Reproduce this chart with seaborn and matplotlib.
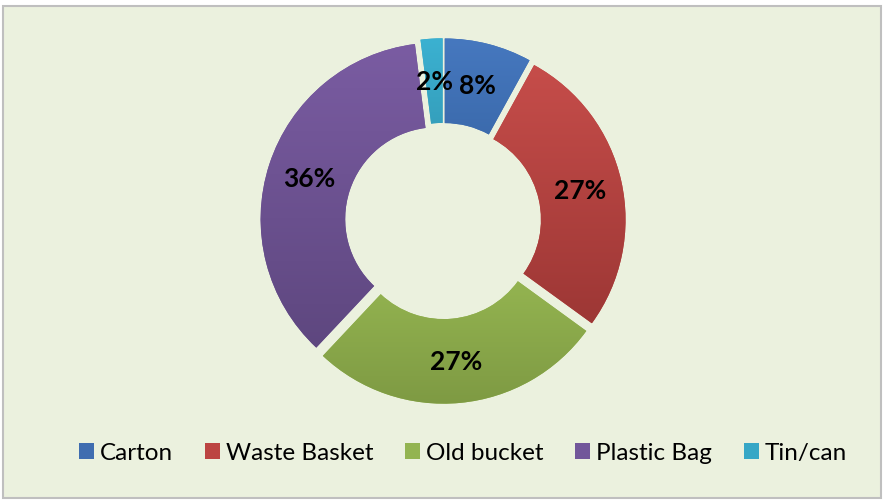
import matplotlib
matplotlib.use("Agg")
import matplotlib.pyplot as plt
from matplotlib.patches import Rectangle, Patch
from matplotlib.colors import to_rgb
import numpy as np
import seaborn as sns

categories = ["Carton", "Waste Basket", "Old bucket", "Plastic Bag", "Tin/can"]
values = [8, 27, 27, 36, 2]
colors = ["#3F6DB0", "#BC4542", "#93B451", "#72579A", "#36A7C6"]
top_colors = ["#4678BF", "#C64D4A", "#9DBF56", "#7A5CA2", "#3BB1D1"]
bottom_colors = ["#33609E", "#9D3735", "#7E9A43", "#5E477F", "#2F8DA7"]

sns.set_style("white")
plt.rcParams["font.family"] = ["Lato", "DejaVu Sans"]

fig = plt.figure(figsize=(8.84, 5.02), dpi=100, facecolor="white")
fig.patches.append(Rectangle((3 / 884, 3 / 502), 878 / 884, 492 / 502,
                             transform=fig.transFigure, facecolor="#EBF1DE",
                             edgecolor="#BFBFBF", linewidth=1.5, zorder=-5))

ax = fig.add_axes([227 / 884, 64 / 502, 432 / 884, 432 / 502])
ax.set_zorder(2)
ax.set_facecolor("none")
wedges, texts, autotexts = ax.pie(
    values, colors=colors, startangle=90, counterclock=False,
    explode=[0.035] * len(values), radius=0.98,
    wedgeprops=dict(width=0.47, linewidth=0),
    autopct=lambda p: f"{p:.0f}%", pctdistance=0.76,
    textprops=dict(fontsize=19, fontweight="bold", color="black"))

# vertical gradient fill for each wedge (lighter top, darker bottom)
for w, ct, cb in zip(wedges, top_colors, bottom_colors):
    verts = w.get_path().vertices
    x0, y0 = verts.min(axis=0)
    x1, y1 = verts.max(axis=0)
    t = np.linspace(0, 1, 128)[:, None]
    grad = (1 - t) * np.array(to_rgb(ct)) + t * np.array(to_rgb(cb))
    img = ax.imshow(grad[:, None, :], extent=[x0, x1, y0, y1], origin="upper",
                    aspect="auto", interpolation="bilinear", zorder=1.5)
    img.set_clip_path(w)
for t in autotexts:
    t.set_zorder(5)

ax.set_xlim(-1.2, 1.2)
ax.set_ylim(-1.2, 1.2)
ax.set_aspect("equal")
ax.axis("off")

handles = [Patch(facecolor=c, edgecolor="none") for c in colors]
leg = fig.legend(handles, categories, loc="center", bbox_to_anchor=(463 / 884, 1 - 454 / 502),
                 ncol=5, frameon=False, fontsize=17.5, handlelength=0.62, handleheight=0.62,
                 handletextpad=0.25, columnspacing=1.3, labelcolor="black")
leg.set_zorder(3)

fig.savefig("out.png", dpi=100, facecolor="white")
